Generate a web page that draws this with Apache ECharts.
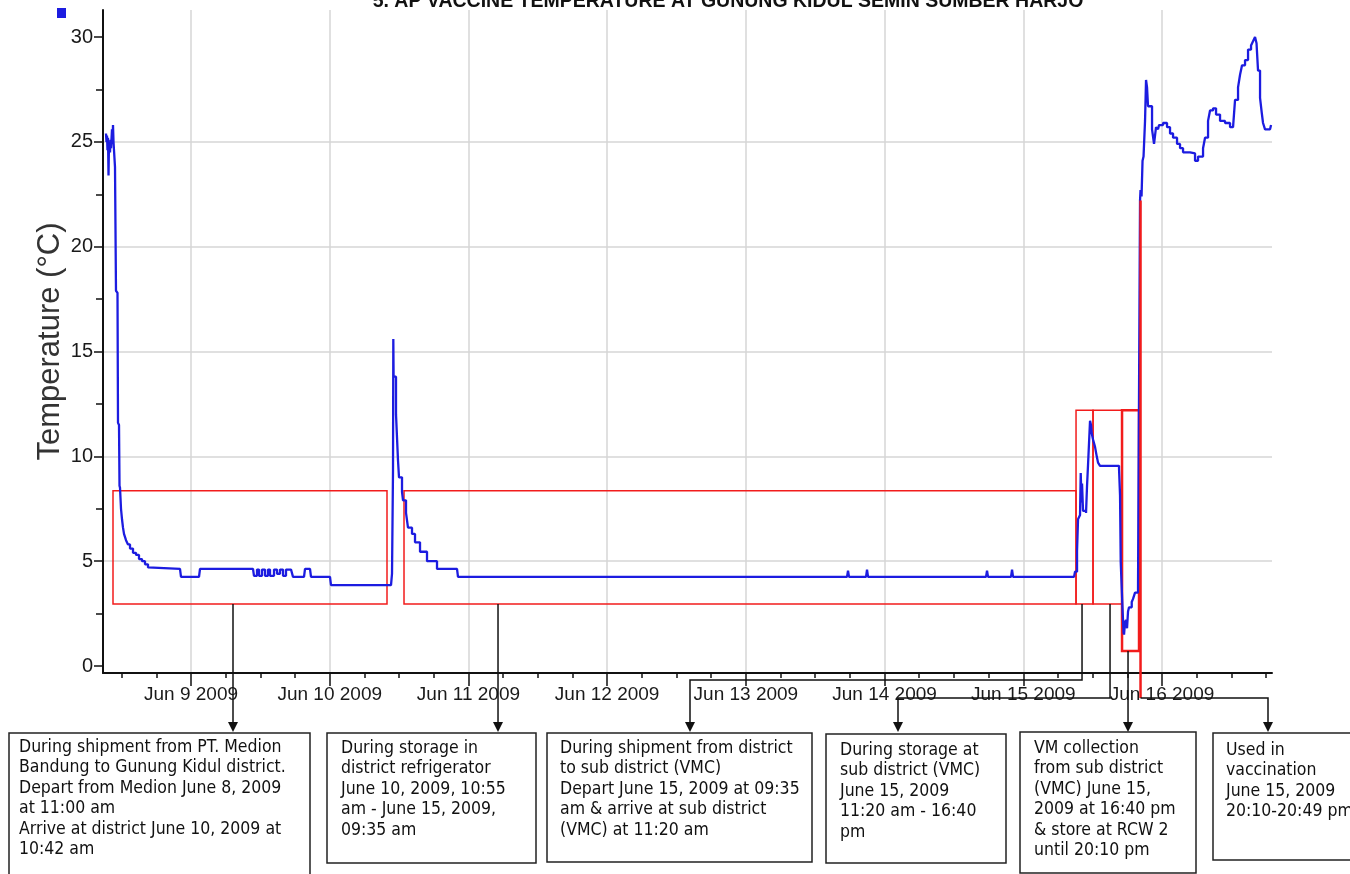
<!DOCTYPE html>
<html><head><meta charset="utf-8">
<script src="https://cdn.jsdelivr.net/npm/echarts@6/dist/echarts.min.js"></script>
<style>html,body{margin:0;padding:0;background:#fff}#c{width:1350px;height:874px}</style>
</head><body><div id="c"></div>
<script>
// ---- data (x = day of June 2009, fractional) ----
const times = [8.3872,8.3908,8.3944,8.3980,8.4017,8.4053,8.4089,8.4161,8.4197,8.4233,8.4305,8.4341,8.4377,8.4413,8.4449,8.4521,8.4557,8.4593,8.4701,8.4737,
8.4810,8.4846,8.4882,8.4954,8.5026,8.5098,8.5170,8.5314,8.5458,8.5603,8.5819,8.6035,8.6251,8.6468,8.6684,8.6900,8.7044,8.9207,8.9279,9.0577,
9.0649,9.4470,9.4542,9.4758,9.4903,9.5119,9.5335,9.5551,9.5696,9.5984,9.6200,9.6417,9.6633,9.6849,9.7210,9.7354,9.8147,9.8219,9.8579,9.8651,
10.0021,10.0093,10.4419,10.4491,10.4563,10.4585,10.4606,10.4707,10.4779,10.4923,10.4996,10.5212,10.5284,10.5500,10.5644,10.5933,10.6149,10.6510,10.7014,10.7735,
10.9177,10.9249,13.7293,13.7365,13.7437,13.8663,13.8735,13.8807,14.7314,14.7386,14.7458,14.9116,14.9189,14.9261,15.3658,15.3730,15.3875,15.3947,15.4091,15.4141,
15.4199,15.4235,15.4307,15.4523,15.4596,15.4668,15.4740,15.4812,15.4884,15.4934,15.5028,15.5172,15.5295,15.5389,15.5533,15.6737,15.6903,15.6975,15.7025,15.7169,
15.7227,15.7263,15.7335,15.7407,15.7479,15.7551,15.7623,15.7818,15.7912,15.8056,15.8272,15.8380,15.8416,15.8452,15.8525,15.8597,15.8669,15.8777,15.8849,15.8921,
15.8993,15.9137,15.9282,15.9426,15.9570,15.9714,15.9786,16.0075,16.0363,16.0579,16.0796,16.1084,16.1300,16.1517,16.2022,16.2382,16.2598,16.2959,16.3103,16.3319,
16.3463,16.3679,16.3896,16.4184,16.4545,16.4905,16.5122,16.5266,16.5482,16.5626,16.5770,16.5986,16.6203,16.6419,16.6563,16.6707,16.6815,16.6923,16.7068,16.7190,
16.7284,16.7428,16.7789,16.7861];
const temps = [25.4,25.0,25.3,24.6,25.2,23.4,25.0,24.5,25.1,24.7,25.6,24.9,25.8,25.0,24.6,23.8,23.8,17.9,17.8,11.6,
11.5,8.6,8.5,7.5,7.0,6.6,6.3,6.0,5.8,5.6,5.4,5.3,5.1,5.0,4.85,4.7,4.63,4.63,4.25,4.25,
4.63,4.63,4.3,4.6,4.3,4.6,4.3,4.6,4.3,4.6,4.4,4.6,4.3,4.6,4.6,4.25,4.25,4.63,4.63,4.25,
4.25,3.86,3.86,4.4,9.35,15.6,13.8,13.8,12.0,9.8,9.0,8.3,7.9,7.3,6.6,6.3,5.9,5.45,5.0,4.63,
4.63,4.25,4.25,4.55,4.25,4.25,4.6,4.25,4.25,4.55,4.25,4.25,4.6,4.25,4.25,4.5,5.5,7.0,7.2,9.2,
7.8,8.7,7.4,7.3,8.6,9.6,9.6,11.7,11.5,11.1,10.8,10.45,10.0,9.7,9.55,9.55,9.4,8.15,4.95,2.5,
1.6,1.5,2.1,2.2,1.8,2.6,2.8,3.05,3.2,3.5,3.85,3.9,22.2,22.7,22.4,24.1,24.3,26.0,27.95,27.6,
26.7,26.7,25.6,24.9,25.7,25.6,25.8,25.9,25.7,25.4,25.2,24.9,24.7,24.5,24.45,24.1,24.3,24.7,25.2,26.0,
26.5,26.6,26.3,26.0,25.9,25.7,25.65,27.0,27.6,28.2,28.65,28.9,29.4,29.6,29.8,30.0,29.7,28.4,27.1,26.4,
25.9,25.6,25.6,25.8];

const dayTicks = [9, 10, 11, 12, 13, 14, 15, 16];
const quarterDayTicks = [8.5,8.75,9.25,9.5,9.75,10.25,10.5,10.75,11.25,11.5,11.75,12.25,12.5,12.75,13.25,13.5,13.75,14.25,14.5,14.75,15.25,15.5,15.75,16.25,16.5,16.75];
const tempTicks = [0, 5, 10, 15, 20, 25, 30];
const tempMinorTicks = [2.5, 7.5, 12.5, 17.5, 22.5, 27.5];

// red highlight boxes (data coordinates)
const boxStart = [8.4377, 10.5356, 15.3803, 15.5028, 15.7119];
const boxEnd   = [10.4130, 15.3803, 15.5028, 15.7119, 15.8344];
const boxLow   = [2.96, 2.96, 2.96, 2.96, 0.72];
const boxHigh  = [8.36, 8.36, 12.2, 12.2, 12.2];

// annotation notes
const noteLines = [
  ['During shipment from PT. Medion','Bandung to Gunung Kidul district.','Depart from Medion June 8, 2009','at 11:00 am','Arrive at district June 10, 2009 at','10:42 am'],
  ['During storage in','district refrigerator','June 10, 2009, 10:55','am - June 15, 2009,','09:35 am'],
  ['During shipment from district','to sub district (VMC)','Depart June 15, 2009 at 09:35','am & arrive at sub district','(VMC) at 11:20 am'],
  ['During storage at','sub district (VMC)','June 15, 2009','11:20 am - 16:40','pm'],
  ['VM collection','from sub district','(VMC) June 15,','2009 at 16:40 pm','& store at RCW 2','until 20:10 pm'],
  ['Used in','vaccination','June 15, 2009','20:10-20:49 pm']
];
// connector anchors: [day, temp at start]
const anchorDay  = [9.3028, 11.2133, 15.4235, 15.6254, 15.7551, 15.8452];
const anchorTemp = [2.96, 2.96, 2.96, 2.96, 0.72, 22.2];

// ---- layout ----
const noteBox = [
  {x: 9, y: 733, w: 301, h: 160},
  {x: 327, y: 733, w: 209, h: 130},
  {x: 547, y: 733, w: 265, h: 129},
  {x: 826, y: 734, w: 180, h: 129},
  {x: 1020, y: 732, w: 176, h: 141},
  {x: 1213, y: 733, w: 150, h: 127}
];
const noteTextPos = [[19,747],[341,748],[560,748],[840,750],[1034,748],[1226,750]];
const route = [
  null, null,
  {bendY: 680, toX: 690},
  {bendY: 698, toX: 898},
  null,
  {bendY: 698, toX: 1268, red: true}
];

const chart = echarts.init(document.getElementById('c'), null, {renderer: 'canvas'});
const seriesData = times.map((t, i) => [t, temps[i]]);
const axisFont = 'Liberation Sans';
const gridColor = '#d6d6d6';

const option = {
  animation: false,
  backgroundColor: '#fff',
  legend: {
    show: true, left: 52, top: 3, itemWidth: 9, itemHeight: 10, itemGap: 0,
    icon: 'rect', formatter: () => '', data: ['T'], selectedMode: false,
    textStyle: {fontSize: 1}
  },
  grid: {left: 103, right: 78, top: 10, bottom: 201, containLabel: false},
  xAxis: [{
    type: 'value', min: 8.3656, max: 16.793, position: 'bottom',
    axisLine: {onZero: false, lineStyle: {color: '#111', width: 2}},
    axisTick: {customValues: dayTicks, length: 13, lineStyle: {color: '#111', width: 1.5}},
    axisLabel: {customValues: dayTicks, formatter: v => 'Jun ' + v + ' 2009', margin: 12,
      fontFamily: axisFont, fontSize: 19, color: '#1a1a1a'},
    splitLine: {show: true, lineStyle: {color: gridColor, width: 1.5}}
  }, {
    type: 'value', min: 8.3656, max: 16.793, position: 'bottom', offset: 0,
    axisLine: {show: false, onZero: false},
    axisTick: {customValues: quarterDayTicks, length: 5, lineStyle: {color: '#111', width: 1.5}},
    axisLabel: {show: false},
    splitLine: {show: false}
  }],
  yAxis: [{
    type: 'value', min: -0.334, max: 31.29, position: 'left',
    name: 'Temperature (°C)', nameLocation: 'middle', nameRotate: 90, nameGap: 37, nameMoveOverlap: false,
    nameTextStyle: {fontFamily: 'Liberation Sans', fontSize: 31, color: '#333'},
    axisLine: {onZero: false, lineStyle: {color: '#111', width: 2}},
    axisTick: {customValues: tempTicks, length: 9, lineStyle: {color: '#111', width: 1.5}},
    axisLabel: {customValues: tempTicks, margin: 10, fontFamily: axisFont, fontSize: 20, color: '#1a1a1a'},
    splitLine: {show: true, showMinLine: false, showMaxLine: false, lineStyle: {color: gridColor, width: 1.5}}
  }, {
    type: 'value', min: -0.334, max: 31.29, position: 'left', offset: 0,
    axisLine: {show: false, onZero: false},
    axisTick: {customValues: tempMinorTicks, length: 7, lineStyle: {color: '#111', width: 1.5}},
    axisLabel: {show: false},
    splitLine: {show: false}
  }],
  series: [{
    name: 'T', type: 'line', xAxisIndex: 0, yAxisIndex: 0, data: seriesData,
    step: 'end', showSymbol: false, symbol: 'none', color: '#1c1ce0',
    lineStyle: {color: '#1c1ce0', width: 2.3}, z: 2
  }, {
    name: 'boxes', type: 'line', xAxisIndex: 0, yAxisIndex: 0, data: [], z: 5,
    markArea: {
      silent: true,
      itemStyle: {color: 'rgba(0,0,0,0)', borderColor: '#f21c1c', borderWidth: 1.5},
      data: boxStart.map((s, i) => [
        {coord: [s, boxLow[i]], itemStyle: i === 4 ? {borderWidth: 2.5} : {}},
        {coord: [boxEnd[i], boxHigh[i]]}
      ])
    }
  }]
};
chart.setOption(option);

// annotation graphics
const g = [];
g.push({type: 'text', z: 100, style: {text: '5. AP VACCINE TEMPERATURE AT GUNUNG KIDUL SEMIN SUMBER HARJO',
  x: 728, y: -8, textAlign: 'center', font: 'bold 19.5px Liberation Sans', fill: '#111'}});
const arrowTip = 732;
anchorDay.forEach((d, i) => {
  const p = chart.convertToPixel({xAxisIndex: 0, yAxisIndex: 0}, [d, anchorTemp[i]]);
  const r = route[i];
  let endX = p[0];
  if (!r) {
    g.push({type: 'polyline', z: 100, shape: {points: [[p[0], p[1]], [p[0], arrowTip - 8]]},
      style: {stroke: '#111', lineWidth: 1.5, fill: null}});
  } else if (r.red) {
    g.push({type: 'polyline', z: 100, shape: {points: [[p[0], p[1]], [p[0], r.bendY]]},
      style: {stroke: '#f21c1c', lineWidth: 2.5, fill: null}});
    g.push({type: 'polyline', z: 100, shape: {points: [[p[0], r.bendY], [r.toX, r.bendY], [r.toX, arrowTip - 8]]},
      style: {stroke: '#111', lineWidth: 1.5, fill: null}});
    endX = r.toX;
  } else {
    g.push({type: 'polyline', z: 100, shape: {points: [[p[0], p[1]], [p[0], r.bendY], [r.toX, r.bendY], [r.toX, arrowTip - 8]]},
      style: {stroke: '#111', lineWidth: 1.5, fill: null}});
    endX = r.toX;
  }
  g.push({type: 'polygon', z: 100, shape: {points: [[endX - 5, arrowTip - 10], [endX + 5, arrowTip - 10], [endX, arrowTip]]},
    style: {fill: '#111'}});
});
noteBox.forEach((b, i) => {
  g.push({type: 'rect', z: 100, shape: {x: b.x, y: b.y, width: b.w, height: b.h},
    style: {fill: '#fff', stroke: '#222', lineWidth: 1.5}});
  g.push({type: 'text', z: 101, style: {text: noteLines[i].join('\n'), x: noteTextPos[i][0], y: noteTextPos[i][1] - 10,
    font: '17.5px DejaVu Sans Condensed', lineHeight: 20.5, fill: '#111'}});
});
chart.setOption({graphic: g});
</script></body></html>
